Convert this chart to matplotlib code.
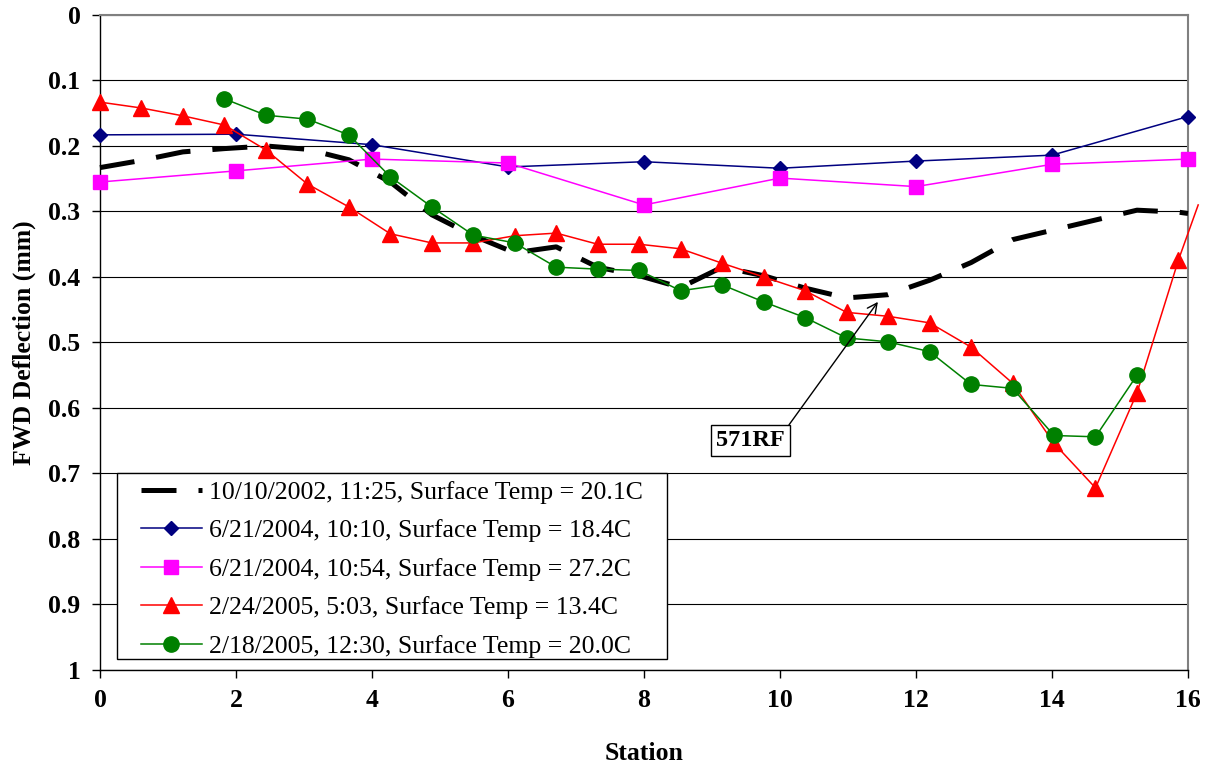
import numpy as np
import matplotlib
matplotlib.use("Agg")
import matplotlib.pyplot as plt
from matplotlib.patches import Rectangle

plt.rcParams['font.family'] = ['Liberation Serif', 'DejaVu Serif']

# --- data (station in km, deflection in mm) ---
st_2002 = [0, 0.61, 1.22, 1.83, 2.44, 3.05, 3.66, 4.27, 4.88, 5.49, 6.1, 6.71,
           7.32, 7.93, 8.54, 9.15, 9.76, 10.37, 10.98, 11.59, 12.2, 12.81,
           13.42, 14.03, 14.64, 15.25, 15.86, 16.0]
defl_2002 = [0.233, 0.222, 0.209, 0.204, 0.200, 0.205, 0.221, 0.255, 0.305,
             0.337, 0.363, 0.354, 0.385, 0.398, 0.416, 0.385, 0.398, 0.417,
             0.432, 0.427, 0.405, 0.378, 0.343, 0.328, 0.313, 0.298, 0.301,
             0.303]

st_2004 = [0, 2, 4, 6, 8, 10, 12, 14, 16]
defl_2004a = [0.183, 0.182, 0.198, 0.232, 0.224, 0.234, 0.223, 0.214, 0.155]
defl_2004b = [0.255, 0.238, 0.220, 0.226, 0.290, 0.249, 0.262, 0.228, 0.220]

st_0224 = [0, 0.61, 1.22, 1.83, 2.44, 3.05, 3.66, 4.27, 4.88, 5.49, 6.1, 6.71,
           7.32, 7.93, 8.54, 9.15, 9.76, 10.37, 10.98, 11.59, 12.2, 12.81,
           13.42, 14.03, 14.64, 15.25, 15.86, 16.15]
defl_0224 = [0.133, 0.142, 0.154, 0.168, 0.206, 0.258, 0.293, 0.334, 0.348,
             0.348, 0.337, 0.333, 0.350, 0.350, 0.357, 0.379, 0.400, 0.421,
             0.454, 0.460, 0.470, 0.507, 0.562, 0.654, 0.722, 0.577, 0.374,
             0.290]

st_0218 = [1.83, 2.44, 3.05, 3.66, 4.27, 4.88, 5.49, 6.1, 6.71, 7.32, 7.93,
           8.54, 9.15, 9.76, 10.37, 10.98, 11.59, 12.2, 12.81, 13.42, 14.03,
           14.64, 15.25]
defl_0218 = [0.128, 0.153, 0.159, 0.183, 0.247, 0.293, 0.336, 0.348, 0.385,
             0.388, 0.390, 0.421, 0.412, 0.438, 0.462, 0.493, 0.499, 0.514,
             0.564, 0.570, 0.642, 0.644, 0.550]

labels = ["10/10/2002, 11:25, Surface Temp = 20.1C",
          "6/21/2004, 10:10, Surface Temp = 18.4C",
          "6/21/2004, 10:54, Surface Temp = 27.2C",
          "2/24/2005, 5:03, Surface Temp = 13.4C",
          "2/18/2005, 12:30, Surface Temp = 20.0C"]

fig = plt.figure(figsize=(12.1, 7.65), dpi=100)
ax = fig.add_axes([0.0826, 0.1242, 0.8992, 0.8562])

lw_d = 3.6
ax.plot(st_2002, defl_2002, color='black', lw=lw_d, dashes=(7.0, 4.4),
        label=labels[0], clip_on=False, zorder=3)
ax.plot(st_2004, defl_2004a, color='#000080', lw=1.1, marker='D', ms=7.6,
        mec='#000080', label=labels[1], clip_on=False, zorder=4)
ax.plot(st_2004, defl_2004b, color='#FF00FF', lw=1.1, marker='s', ms=10.5,
        mec='#FF00FF', label=labels[2], clip_on=False, zorder=4)
ax.plot(st_0224, defl_0224, color='#FF0000', lw=1.1, marker='^', ms=11,
        mec='#FF0000', markevery=list(range(len(st_0224) - 1)),
        label=labels[3], clip_on=False, zorder=5)
ax.plot(st_0218, defl_0218, color='#008000', lw=1.1, marker='o', ms=11,
        mec='#008000', label=labels[4], clip_on=False, zorder=6)

ax.set_xlim(0, 16)
ax.set_ylim(1, 0)
ax.set_xticks(np.arange(0, 17, 2))
yt = np.round(np.arange(0, 1.01, 0.1), 1)
ax.set_yticks(yt)
ax.set_yticklabels(['%g' % v for v in yt])
ax.yaxis.grid(True, color='black', lw=0.8)
ax.set_axisbelow(True)

for s in ['top', 'right']:
    ax.spines[s].set_color('#808080')
    ax.spines[s].set_linewidth(1.5)
for s in ['left', 'bottom']:
    ax.spines[s].set_color('black')
    ax.spines[s].set_linewidth(1.0)

ax.tick_params(axis='both', direction='out', length=6, width=1.0,
               labelsize=18.5, pad=8)
for t in ax.get_xticklabels() + ax.get_yticklabels():
    t.set_fontweight('bold')

ax.set_xlabel('Station', fontsize=18.5, fontweight='bold', labelpad=21)
ax.set_ylabel('FWD Deflection (mm)', fontsize=18.5, fontweight='bold',
              labelpad=9)

# legend box drawn separately (Excel pads it wider than matplotlib does)
frame = Rectangle((0.0156, 0.0168), 0.5055, 0.284, transform=ax.transAxes,
                  fc='white', ec='black', lw=1.0, zorder=9, clip_on=False)
ax.add_patch(frame)
leg = ax.legend(loc='upper left', bbox_to_anchor=(0.0377, 0.2885),
                fontsize=18.5, frameon=False, handlelength=2.37,
                handletextpad=0.27, labelspacing=0.6, borderpad=0,
                borderaxespad=0)
leg.set_zorder(10)

ax.annotate('571RF', xy=(11.44, 0.438), xytext=(9.57, 0.65),
            fontsize=17.5, fontweight='bold', ha='center', va='center',
            bbox=dict(boxstyle='square,pad=0.2', fc='white', ec='black', lw=1.0),
            arrowprops=dict(arrowstyle='->', color='black', lw=1.0,
                            relpos=(1, 1), shrinkA=0, shrinkB=0),
            zorder=8)

fig.savefig('out.png', dpi=100)
